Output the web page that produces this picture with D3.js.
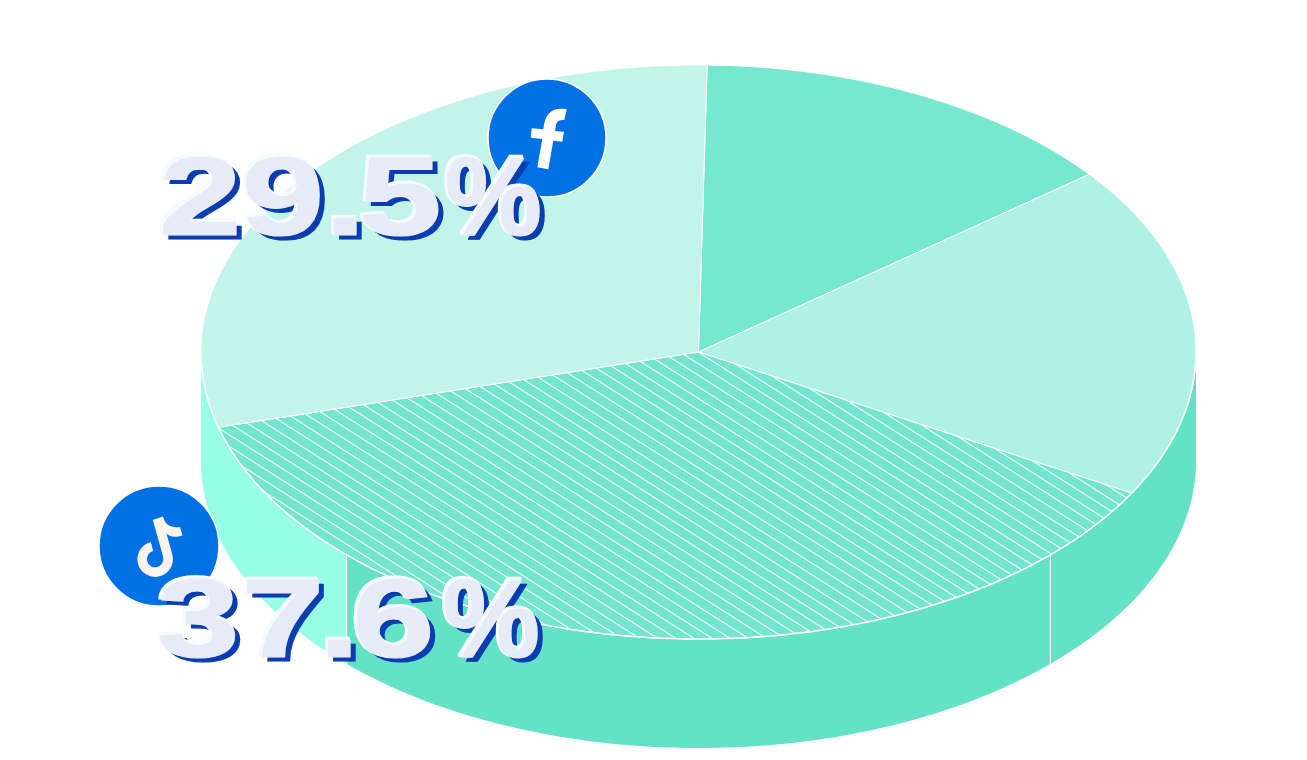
<!DOCTYPE html>
<html>
<head>
<meta charset="utf-8">
<script src="https://cdn.jsdelivr.net/npm/d3@7"></script>
<style>
html,body{margin:0;padding:0;background:#fff;overflow:hidden}
svg{display:block}
</style>
</head>
<body>
<svg id="chart" width="1307" height="760"></svg>
<script>
// data
const platforms = ["Other A", "Other B", "TikTok", "Facebook"];
const shares = [14.1, 18.8, 37.6, 29.5];
const sliceColors = ["#75E8CF", "#AFF1E5", "#75E6CD", "#C2F4E9"];
const hatched = [false, false, true, false];
const wallBreaks = [90, 135, 225, 270];
const wallColors = ["#64E2C6", "#64E2C6", "#97FFE5"];
const labelTexts = ["29.5", "37.6"];
const labelUnit = "%";

const W = 1307, H = 760;
const cx = 698.5, cy = 352, rx = 497.5, ry = 287, depth = 109;

const svg = d3.select("#chart").attr("viewBox", [0, 0, W, H]);
const x = d3.scaleLinear().domain([-1, 1]).range([cx - rx, cx + rx]);
const y = d3.scaleLinear().domain([-1, 1]).range([cy + ry, cy - ry]);

const rimPoints = (a0, a1, dy = 0) => {
  const n = Math.max(2, Math.ceil(Math.abs(a1 - a0) * 180 / Math.PI));
  return d3.range(n + 1).map(i => {
    const a = a0 + (a1 - a0) * i / n;
    return [x(Math.sin(a)), y(Math.cos(a)) + dy];
  });
};
const line = d3.line();

const defs = svg.append("defs");

// hatch pattern
const pat = defs.append("pattern")
  .attr("id", "hatch")
  .attr("patternUnits", "userSpaceOnUse")
  .attr("width", 40).attr("height", 9.75)
  .attr("patternTransform", "translate(699,352) rotate(32.5)");
pat.append("rect").attr("width", 40).attr("height", 9.75).attr("fill", sliceColors[2]);
pat.append("line").attr("x1", 0).attr("x2", 40).attr("y1", 0.5).attr("y2", 0.5)
  .attr("stroke", "#fff").attr("stroke-width", 1);

// label extrusion: one text, with shadow, highlight and outline from a filter
const sx = 1.33;
const f = defs.append("filter").attr("id", "extrude")
  .attr("filterUnits", "userSpaceOnUse")
  .attr("x", -40).attr("y", -140).attr("width", 420).attr("height", 190)
  .attr("color-interpolation-filters", "sRGB");
f.append("feOffset").attr("in", "SourceAlpha").attr("dx", 5 / sx).attr("dy", 4).attr("result", "o1");
f.append("feFlood").attr("flood-color", "#0A3DB0");
f.append("feComposite").attr("in2", "o1").attr("operator", "in").attr("result", "dark");
f.append("feOffset").attr("in", "SourceAlpha").attr("dx", -2 / sx).attr("dy", -2).attr("result", "o2");
f.append("feMorphology").attr("in", "o2").attr("operator", "dilate").attr("radius", 1).attr("result", "o3");
f.append("feFlood").attr("flood-color", "#F4FCFC");
f.append("feComposite").attr("in2", "o3").attr("operator", "in").attr("result", "light");
const m = f.append("feMerge");
m.append("feMergeNode").attr("in", "dark");
m.append("feMergeNode").attr("in", "light");
m.append("feMergeNode").attr("in", "SourceGraphic");

// walls
const rad = d => d * Math.PI / 180;
const wallData = d3.pairs(wallBreaks).map(([a, b], i) => ({ a: rad(a), b: rad(b), color: wallColors[i] }));
svg.append("g").selectAll("path").data(wallData).join("path")
  .attr("d", d => line(rimPoints(d.a, d.b).concat(rimPoints(d.b, d.a, depth))) + "Z")
  .attr("fill", d => d.color);
svg.append("g").selectAll("line").data(wallBreaks.slice(1, 3)).join("line")
  .attr("x1", d => x(Math.sin(rad(d)))).attr("x2", d => x(Math.sin(rad(d))))
  .attr("y1", d => y(Math.cos(rad(d)))).attr("y2", d => y(Math.cos(rad(d))) + depth)
  .attr("stroke", "#fff").attr("stroke-width", 1);

// cap
const pie = d3.pie().sort(null).startAngle(rad(1)).endAngle(rad(361));
const arcs = pie(shares);
svg.append("g").selectAll("path").data(arcs).join("path")
  .attr("d", d => line([[x(0), y(0)], ...rimPoints(d.startAngle, d.endAngle)]) + "Z")
  .attr("fill", (d, i) => hatched[i] ? "url(#hatch)" : sliceColors[i])
  .attr("stroke", "#fff").attr("stroke-width", 1).attr("stroke-linejoin", "round");
svg.append("path")
  .attr("d", line(rimPoints(rad(wallBreaks[0]), rad(wallBreaks[3]))))
  .attr("fill", "none").attr("stroke", "#fff").attr("stroke-width", 1.5);

// icons
const icons = svg.append("g");
icons.append("circle").attr("cx", 547).attr("cy", 138).attr("r", 59)
  .attr("fill", "#0070E5").attr("stroke", "#fff").attr("stroke-width", 1.5);
icons.append("path")
  .attr("d", "M566.7,109.3L564.3,120C559,120 556.8,121 556,125L555,131L564,131.7L562.3,141.7L553.3,140.7L548.3,169.3L537.3,167.3L542.3,139L530.7,137.7L531.7,128.3L543.3,129.3C545,114 551,107 566.7,109.3Z")
  .attr("fill", "#fff");
icons.append("circle").attr("cx", 159).attr("cy", 546).attr("r", 60)
  .attr("fill", "#0070E5").attr("stroke", "#fff").attr("stroke-width", 1.5);
const note = icons.append("g").attr("fill", "none").attr("stroke", "#FFF3EE").attr("stroke-width", 9.5);
note.append("path").attr("d", "M157.5,519L167.8,556A13,13 0 1 1 152,546.5");
note.append("path").attr("d", "M152.5,520L163,516.5C165,525 171,528 180,527L182.5,535.5C175,538 170,537 166,533Z")
  .attr("fill", "#FFF3EE").attr("stroke", "none");

// labels
const labelPos = [[159, 235], [157, 657]];
const labelKerns = [[0, 0, 0, -7], [0, 2, -6, -8]];
const unitKerns = [3, 8];
const labelSel = svg.append("g").selectAll("text").data(labelTexts).join("text")
  .attr("transform", (d, i) => `translate(${labelPos[i][0]},${labelPos[i][1]}) scale(${sx},1)`)
  .attr("filter", "url(#extrude)")
  .style("font-family", "'Liberation Sans', sans-serif")
  .style("font-weight", 700)
  .style("font-size", "112px")
  .attr("fill", "#E6EBF7")
  .attr("stroke", "#E6EBF7").attr("stroke-width", 1.2).attr("stroke-linejoin", "round");
labelSel.append("tspan")
  .attr("dx", (d, i) => labelKerns[i].map(k => k / sx).join(" "))
  .text(d => d);
labelSel.append("tspan")
  .attr("dx", (d, i) => unitKerns[i] / sx)
  .attr("textLength", 97 / sx)
  .attr("lengthAdjust", "spacingAndGlyphs")
  .text(labelUnit);
</script>
</body>
</html>
